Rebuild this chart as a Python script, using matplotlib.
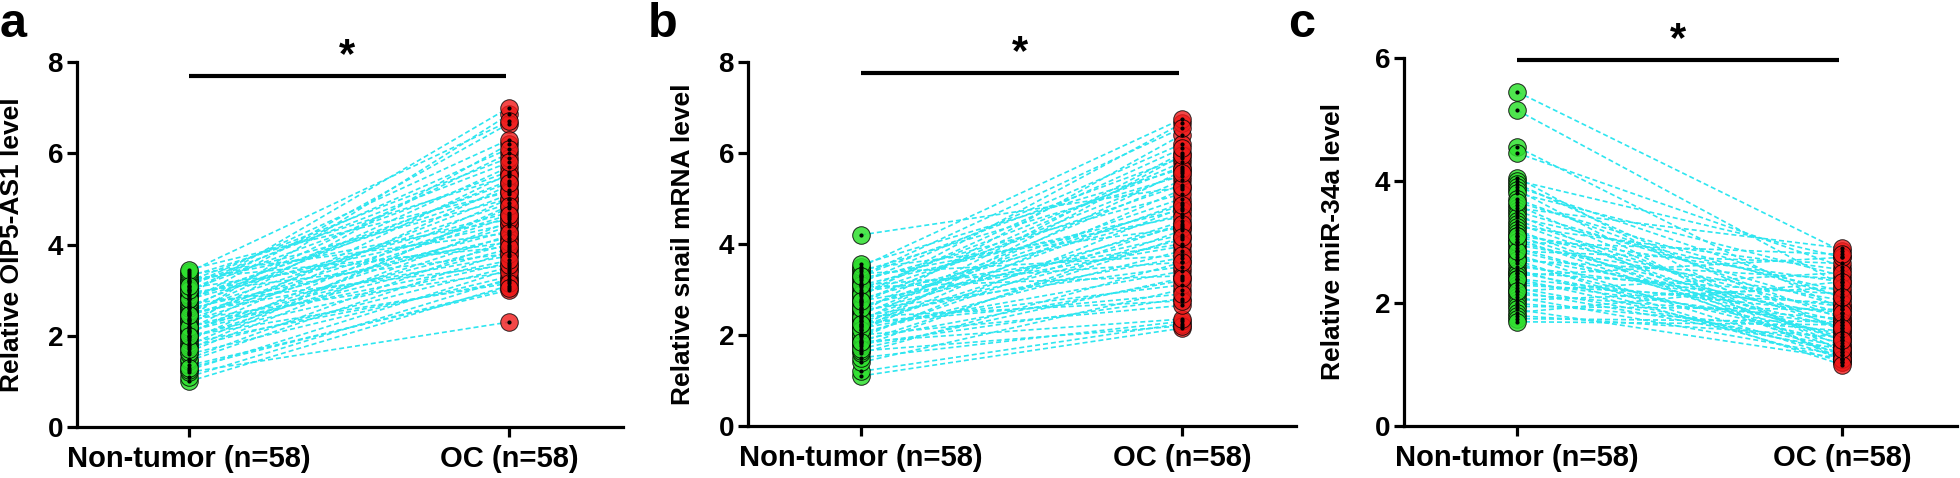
import numpy as np
import matplotlib
matplotlib.use('Agg')
import matplotlib.pyplot as plt

plt.rcParams['font.family'] = ['Liberation Sans', 'DejaVu Sans']
plt.rcParams['font.weight'] = 'bold'

groups = ['Non-tumor (n=58)', 'OC (n=58)']

# panel a: OIP5-AS1, paired samples (same index = same patient)
a_non = [1.00, 1.10, 1.20, 1.25, 1.35, 1.45, 1.50, 1.60, 1.65, 1.75,
         1.80, 1.85, 1.90, 1.95, 2.00, 2.05, 2.10, 2.10, 2.15, 2.20,
         2.25, 2.30, 2.35, 2.35, 2.40, 2.45, 2.50, 2.50, 2.55, 2.60,
         2.60, 2.65, 2.70, 2.75, 2.80, 2.85, 2.90, 2.90, 2.95, 3.00,
         3.05, 3.10, 3.15, 3.20, 3.20, 3.25, 3.30, 3.35, 3.40, 3.45,
         2.20, 1.70, 2.00, 2.80, 3.00, 1.30, 2.45, 3.10]
a_oc = [3.10, 3.25, 2.30, 3.45, 3.00, 3.85, 4.10, 3.30, 4.50, 3.50,
        4.80, 3.20, 5.00, 4.20, 3.60, 5.30, 4.40, 3.90, 5.55, 4.00,
        6.20, 4.60, 3.40, 5.10, 6.85, 4.30, 5.70, 3.75, 4.90, 6.00,
        4.15, 5.40, 3.55, 6.65, 4.70, 5.20, 4.45, 7.00, 3.80, 5.60,
        4.05, 6.30, 5.00, 4.55, 5.90, 3.95, 5.50, 4.25, 6.70, 5.15,
        3.65, 4.85, 3.15, 5.35, 6.10, 3.05, 4.65, 5.80]

# panel b: snail mRNA
b_non = [1.10, 1.20, 1.40, 1.50, 1.60, 1.65, 1.75, 1.80, 1.85, 1.90,
         1.95, 2.00, 2.05, 2.10, 2.15, 2.20, 2.20, 2.25, 2.30, 2.30,
         2.35, 2.40, 2.45, 2.50, 2.50, 2.55, 2.60, 2.65, 2.70, 2.75,
         2.80, 2.85, 2.90, 2.95, 3.00, 3.05, 3.10, 3.15, 3.20, 3.25,
         3.30, 3.35, 3.40, 3.45, 3.50, 3.55, 4.20, 2.00, 2.40, 1.70,
         2.10, 2.60, 2.90, 3.10, 1.85, 2.75, 2.25, 3.30]
b_oc = [2.15, 2.25, 3.00, 2.30, 3.60, 2.20, 4.30, 2.80, 2.35, 3.20,
        4.80, 2.65, 3.85, 5.20, 3.40, 4.50, 5.60, 3.10, 4.10, 6.00,
        4.90, 3.70, 5.40, 4.40, 6.40, 3.50, 5.00, 4.20, 5.80, 3.95,
        4.65, 6.65, 5.30, 4.00, 5.70, 3.30, 4.75, 6.20, 5.10, 4.60,
        5.90, 3.75, 5.50, 4.35, 6.75, 5.65, 5.25, 4.45, 2.75, 3.25,
        5.95, 4.85, 6.10, 3.60, 4.15, 5.55, 2.90, 6.55]

# panel c: miR-34a
c_non = [5.45, 5.15, 4.55, 4.45, 4.05, 4.00, 3.95, 3.90, 3.85, 3.80,
         3.70, 3.60, 3.55, 3.50, 3.45, 3.40, 3.35, 3.30, 3.25, 3.20,
         3.15, 3.10, 3.05, 3.00, 2.95, 2.90, 2.85, 2.80, 2.75, 2.70,
         2.65, 2.60, 2.55, 2.50, 2.50, 2.45, 2.40, 2.35, 2.30, 2.25,
         2.20, 2.15, 2.10, 2.05, 2.00, 1.95, 1.90, 1.85, 1.80, 1.75,
         1.70, 2.70, 3.00, 2.40, 3.65, 2.85, 2.20, 3.10]
c_oc = [2.85, 2.30, 1.90, 2.60, 1.20, 2.75, 1.55, 2.10, 1.05, 2.45,
        1.75, 1.30, 2.90, 1.95, 1.10, 2.20, 1.60, 1.40, 2.55, 1.15,
        1.85, 2.35, 1.25, 1.70, 2.05, 1.45, 2.65, 1.10, 1.80, 2.40,
        1.35, 1.95, 1.05, 2.15, 1.50, 2.75, 1.20, 1.65, 2.00, 1.30,
        2.50, 1.75, 1.15, 2.25, 1.55, 1.90, 1.10, 2.35, 1.45, 1.70,
        1.65, 1.00, 2.80, 1.85, 2.10, 1.60, 1.25, 1.40]

panels = [
    ('a', a_non, a_oc, 'Relative OIP5-AS1 level', 8, [0, 2, 4, 6, 8], 7.69),
    ('b', b_non, b_oc, 'Relative snail mRNA level', 8, [0, 2, 4, 6, 8], 7.76),
    ('c', c_non, c_oc, 'Relative miR-34a level', 6, [0, 2, 4, 6], 5.97),
]

W, H = 1960, 478
# axes boxes in pixels: left spine, right end of x axis, top (ymax), bottom (y=0)
boxes = [(77, 623, 62, 427), (748, 1296, 62, 426), (1404, 1957, 58, 426)]
cats = [(189, 509), (861, 1182), (1517, 1842)]
letter_x = [0, 648, 1288]
ylab_x = [24, 695, 1345]

fig = plt.figure(figsize=(W / 100, H / 100), dpi=100)

green = '#2fe02f'
red = '#f01a1a'
cyan = '#2ee6f0'

for i, (letter, non, oc, ylab, ymax, yt, bar_y) in enumerate(panels):
    l, r, t, b = boxes[i]
    ax = fig.add_axes([l / W, 1 - b / H, (r - l) / W, (b - t) / H])
    c0, c1 = cats[i]
    unit = c1 - c0
    ax.set_xlim((l - c0) / unit, (r - c0) / unit)
    ax.set_ylim(0, ymax)

    for n, o in zip(non, oc):
        ax.plot([0, 1], [n, o], ls='--', dashes=(3, 1.8), color=cyan,
                lw=1.2, zorder=1)

    ax.scatter(np.zeros(len(non)), non, s=160, facecolor=green, alpha=0.85,
               edgecolor='black', linewidth=0.7, zorder=3)
    ax.scatter(np.ones(len(oc)), oc, s=160, facecolor=red, alpha=0.8,
               edgecolor='black', linewidth=0.7, zorder=3)
    ax.scatter(np.zeros(len(non)), non, s=4, color='black', zorder=4)
    ax.scatter(np.ones(len(oc)), oc, s=4, color='black', zorder=4)

    # significance bar
    ax.plot([0, 0.99], [bar_y, bar_y], color='black', lw=3, clip_on=False,
            solid_capstyle='butt')
    ax.text(0.495, bar_y, '*', ha='center', va='bottom', fontsize=30,
            fontweight='bold')

    for s in ['top', 'right']:
        ax.spines[s].set_visible(False)
    for s in ['left', 'bottom']:
        ax.spines[s].set_linewidth(2.3)
    ax.set_xticks([0, 1])
    ax.set_xticklabels(groups, fontsize=21, fontweight='bold')
    ax.set_yticks(yt)
    ax.set_yticklabels([str(v) for v in yt], fontsize=20, fontweight='bold')
    ax.tick_params(axis='y', length=7, width=2.3, pad=3)
    ax.tick_params(axis='x', length=7, width=2.3, pad=6)
    ax.set_ylabel(ylab, fontsize=19, fontweight='bold')
    ax.yaxis.set_label_coords((ylab_x[i] - l) / (r - l), 0.5)

    fig.text(letter_x[i] / W, 1 - 37 / H, letter, fontsize=35,
             fontweight='bold', va='baseline', ha='left')

fig.savefig('out.png', dpi=100)
